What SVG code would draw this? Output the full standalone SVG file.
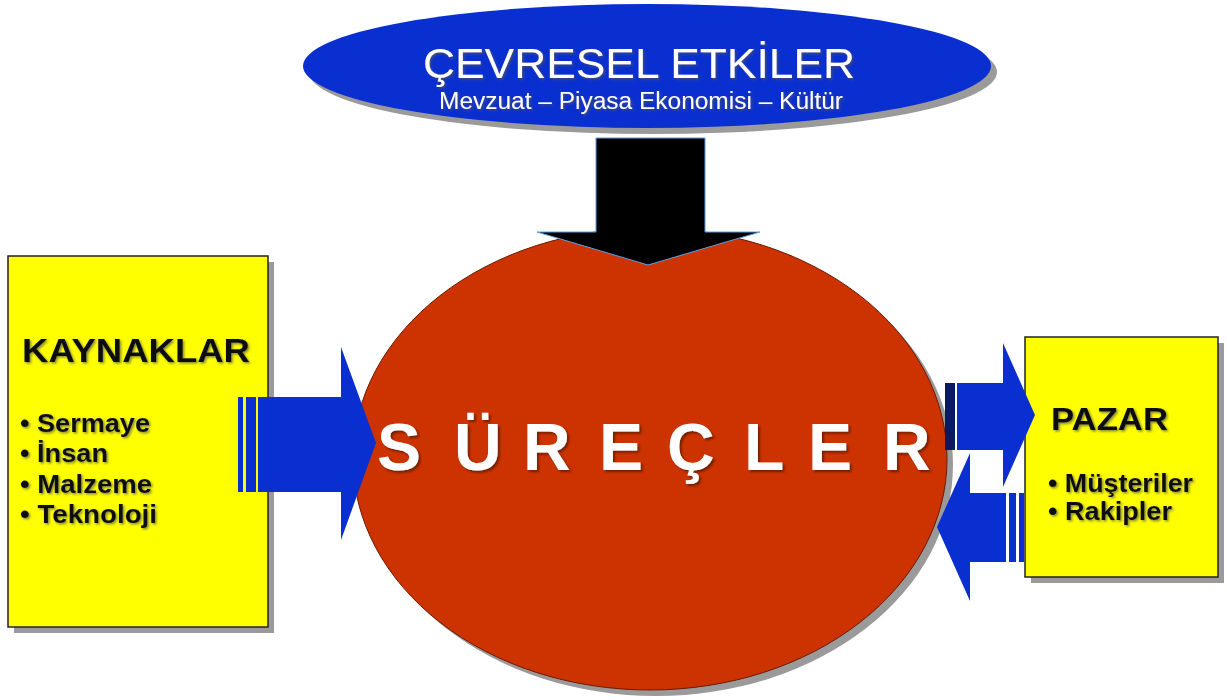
<svg xmlns="http://www.w3.org/2000/svg" width="1227" height="700" viewBox="0 0 1227 700">
<defs>
<filter id="ts" x="-5%" y="-20%" width="110%" height="140%">
<feDropShadow dx="1.5" dy="1.5" stdDeviation="0.8" flood-color="#555" flood-opacity="0.7"/>
</filter>
<filter id="tsr" x="-5%" y="-20%" width="110%" height="140%">
<feDropShadow dx="2" dy="2" stdDeviation="1" flood-color="#5a1500" flood-opacity="0.8"/>
</filter>
</defs>
<style>
.shadow{fill:#9a9a9a}
.box{fill:#ffff00;stroke:#222;stroke-width:1.5}
.arrow{fill:#0a2fd0}
.dark{fill:#111;font-family:"Liberation Sans",Arial,sans-serif;font-weight:bold}
.white{fill:#fff;font-family:"Liberation Sans",Arial,sans-serif}
</style>
<rect width="1227" height="700" fill="#fff"/>
<g id="cevresel">
<ellipse class="shadow" cx="653" cy="72" rx="344" ry="62"/>
<ellipse cx="647" cy="66" rx="344" ry="62" fill="#0a2fd0"/>
<g filter="url(#ts)">
<text class="white" x="639" y="78" text-anchor="middle" font-size="43" textLength="432" lengthAdjust="spacingAndGlyphs" fill="#f0f0f0">ÇEVRESEL ETKİLER</text>
<text class="white" x="641" y="109" text-anchor="middle" font-size="23" textLength="404" lengthAdjust="spacingAndGlyphs" fill="#e0e0e0">Mevzuat – Piyasa Ekonomisi – Kültür</text>
</g>
</g>
<g id="surecler">
<ellipse class="shadow" cx="656" cy="465" rx="297" ry="231"/>
<ellipse cx="650" cy="459" rx="297" ry="231" fill="#cc3300" stroke="#6a1a00" stroke-width="1"/>
</g>
<g id="kaynaklar">
<rect class="shadow" x="14" y="262" width="260" height="371"/>
<rect class="box" x="8" y="256" width="260" height="371"/>
<g class="dark" filter="url(#ts)">
<text x="22" y="362" font-size="34" textLength="228" lengthAdjust="spacingAndGlyphs">KAYNAKLAR</text>
<text x="20" y="432" font-size="25" textLength="130" lengthAdjust="spacingAndGlyphs">• Sermaye</text>
<text x="20" y="462" font-size="25" textLength="88" lengthAdjust="spacingAndGlyphs">• İnsan</text>
<text x="20" y="493" font-size="25" textLength="132" lengthAdjust="spacingAndGlyphs">• Malzeme</text>
<text x="20" y="523" font-size="25" textLength="137" lengthAdjust="spacingAndGlyphs">• Teknoloji</text>
</g>
</g>
<g id="pazar">
<rect class="shadow" x="1031" y="343" width="193" height="240"/>
<rect class="box" x="1025" y="337" width="193" height="240"/>
<g class="dark" filter="url(#ts)">
<text x="1051" y="430" font-size="32" textLength="117" lengthAdjust="spacingAndGlyphs">PAZAR</text>
<text x="1048" y="492" font-size="25" textLength="145" lengthAdjust="spacingAndGlyphs">• Müşteriler</text>
<text x="1048" y="520" font-size="25" textLength="124" lengthAdjust="spacingAndGlyphs">• Rakipler</text>
</g>
</g>
<g id="connectors">
<path d="M596,138 H705 V232 H760 L648,265 L537,232 H596 Z" fill="#000" stroke="#5aa0e0" stroke-width="1"/>
<g class="arrow">
<rect x="238" y="397" width="5" height="95"/>
<rect x="246" y="397" width="10" height="95"/>
<path d="M258,397 H341 V347 L376,443 L341,540 V492 H258 Z"/>
<rect x="945" y="383" width="10" height="67" fill="#0a1a60"/>
<path d="M957,383 H1003 V343 L1035,415 L1003,487 V450 H957 Z"/>
<rect x="1019" y="493" width="5" height="69"/>
<rect x="1009" y="493" width="7" height="69"/>
<path d="M1006,493 H970 V453 L937,527 L970,601 V562 H1006 Z"/>
</g>
</g>
<text class="white" y="470" font-size="66" font-weight="bold" filter="url(#tsr)" x="377 454 523 599 667 744 808 883">SÜREÇLER</text>
</svg>
